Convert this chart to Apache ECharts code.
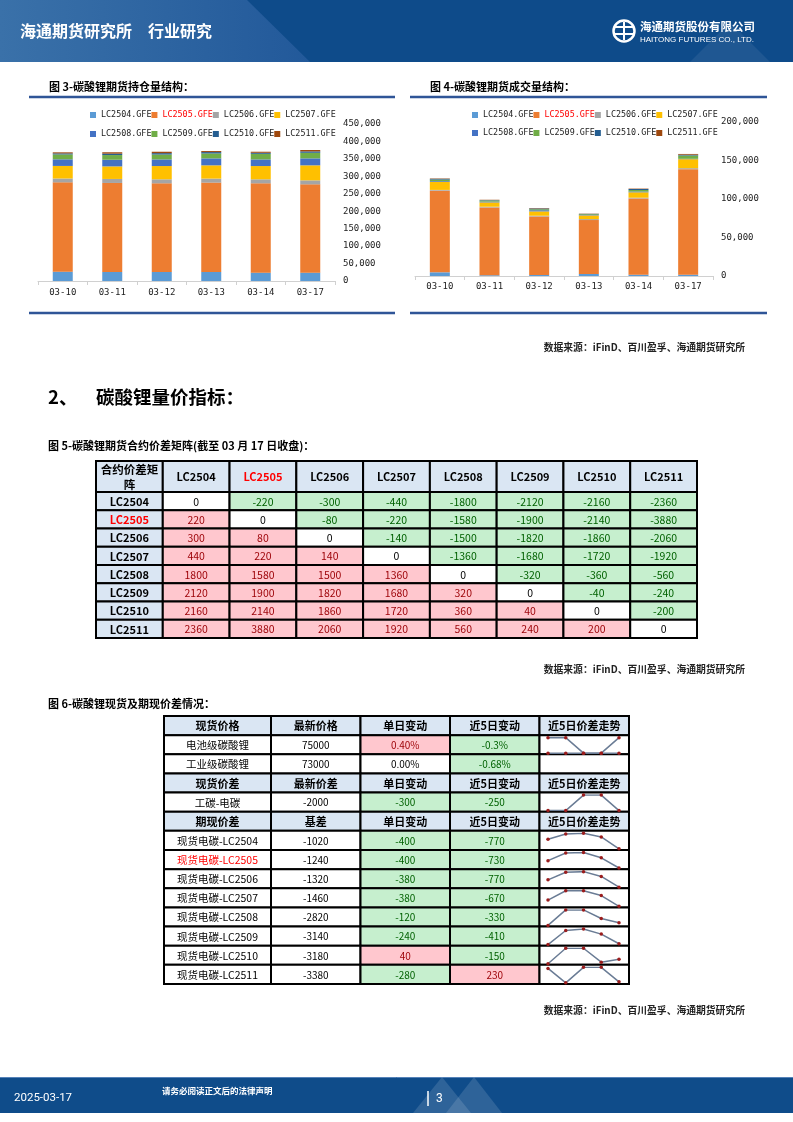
<!DOCTYPE html>
<html>
<head>
<meta charset="utf-8">
<title>碳酸锂量价指标</title>
<script src="https://cdn.jsdelivr.net/npm/echarts@6.0.0/dist/echarts.min.js"></script>
<style>
html, body { margin: 0; padding: 0; background: #fff; }
#page { width: 793px; height: 1122px; }
</style>
</head>
<body>
<div id="page"></div>
<script>
// 日期与合约
const dates = ['03-10', '03-11', '03-12', '03-13', '03-14', '03-17']
const contracts = ['LC2504', 'LC2505', 'LC2506', 'LC2507', 'LC2508', 'LC2509', 'LC2510', 'LC2511']

// 图3 持仓量
const holdLC2504 = [26800, 26000, 26000, 26000, 24000, 24000]
const holdLC2505 = [256000, 255000, 254000, 256000, 256000, 253000]
const holdLC2506 = [11000, 11500, 11500, 11500, 11500, 11500]
const holdLC2507 = [36000, 36000, 38000, 38000, 38000, 43000]
const holdLC2508 = [19000, 19000, 19000, 20000, 19000, 20000]
const holdLC2509 = [14000, 13500, 14000, 14000, 16000, 16000]
const holdLC2510 = [3000, 4000, 4000, 4000, 3000, 4000]
const holdLC2511 = [3000, 4000, 4000, 3000, 3000, 4000]

// 图4 成交量
const volLC2504 = [4800, 1000, 1300, 2600, 1700, 1700]
const volLC2505 = [106000, 88000, 76000, 70000, 99000, 137000]
const volLC2506 = [1000, 1000, 1000, 1300, 1000, 1300]
const volLC2507 = [10400, 5600, 5600, 4800, 7000, 11700]
const volLC2508 = [1000, 1000, 1500, 500, 1000, 500]
const volLC2509 = [2000, 1500, 1300, 1000, 2000, 4300]
const volLC2510 = [1000, 500, 1000, 500, 1300, 1000]
const volLC2511 = [500, 400, 500, 300, 500, 1000]

// 图5 价差矩阵（行 - 列）
const spreadLC2504 = [0, -220, -300, -440, -1800, -2120, -2160, -2360]
const spreadLC2505 = [220, 0, -80, -220, -1580, -1900, -2140, -3880]
const spreadLC2506 = [300, 80, 0, -140, -1500, -1820, -1860, -2060]
const spreadLC2507 = [440, 220, 140, 0, -1360, -1680, -1720, -1920]
const spreadLC2508 = [1800, 1580, 1500, 1360, 0, -320, -360, -560]
const spreadLC2509 = [2120, 1900, 1820, 1680, 320, 0, -40, -240]
const spreadLC2510 = [2160, 2140, 1860, 1720, 360, 40, 0, -200]
const spreadLC2511 = [2360, 3880, 2060, 1920, 560, 240, 200, 0]

// 图6 现货及期现价差
const headSpot = ['现货价格', '最新价格', '单日变动', '近5日变动', '近5日价差走势']
const headGap = ['现货价差', '最新价差', '单日变动', '近5日变动', '近5日价差走势']
const headBasis = ['期现价差', '基差', '单日变动', '近5日变动', '近5日价差走势']
const spotNames = ['电池级碳酸锂', '工业级碳酸锂']
const spotLatest = [75000, 73000]
const spotDaily = ['0.40%', '0.00%']
const spotFive = ['-0.3%', '-0.68%']
const gapNames = ['工碳-电碳']
const gapLatest = [-2000]
const gapDaily = [-300]
const gapFive = [-250]
const basisLatest = [-1020, -1240, -1320, -1460, -2820, -3140, -3180, -3380]
const basisDaily = [-400, -400, -380, -380, -120, -240, 40, -280]
const basisFive = [-770, -730, -770, -670, -330, -410, -150, 230]

// 近5日走势
const trendBattery = [75000, 75000, 74700, 74700, 75000]
const trendIndustrial = [73000, 73000, 73000, 73000, 73000]
const trendGap = [-2000, -2000, -1700, -1700, -2000]
const trend2504 = [-700, -520, -500, -620, -1020]
const trend2505 = [-950, -650, -630, -840, -1240]
const trend2506 = [-1060, -790, -770, -940, -1320]
const trend2507 = [-1240, -910, -910, -1080, -1460]
const trend2508 = [-2900, -2450, -2450, -2700, -2820]
const trend2509 = [-3160, -2810, -2775, -2900, -3140]
const trend2510 = [-3240, -3035, -3035, -3220, -3180]
const trend2511 = [-3120, -3400, -3100, -3100, -3380]

const CJK = '"Noto Sans CJK SC"'
const MONO = '"DejaVu Sans Mono"'
const barColors = ['#5B9BD5', '#ED7D31', '#A5A5A5', '#FFC000', '#4472C4', '#70AD47', '#255E91', '#9E480E']
const headFill = '#DAE6F3'

const holdData = [holdLC2504, holdLC2505, holdLC2506, holdLC2507, holdLC2508, holdLC2509, holdLC2510, holdLC2511]
const volData = [volLC2504, volLC2505, volLC2506, volLC2507, volLC2508, volLC2509, volLC2510, volLC2511]
const spreadRows = [spreadLC2504, spreadLC2505, spreadLC2506, spreadLC2507, spreadLC2508, spreadLC2509, spreadLC2510, spreadLC2511]
const basisTrends = [trend2504, trend2505, trend2506, trend2507, trend2508, trend2509, trend2510, trend2511]
const legendNames = contracts.map((c) => c + '.GFE')

const chart = echarts.init(document.getElementById('page'), null, { renderer: 'canvas' })

// 正负着色
const signStyle = (v) => {
  if (v > 0) return { fill: '#FFC7CE', color: '#9C0006' }
  if (v < 0) return { fill: '#C6EFCE', color: '#006100' }
  return { fill: '#FFFFFF', color: '#000000' }
}

const grids = []
const xAxes = []
const yAxes = []
const series = []

// 堆积柱状图
const addBarChart = (box, data, stack, max, labelMargin) => {
  const gi = grids.length
  grids.push({ left: box[0], top: box[1], width: box[2], height: box[3], outerBoundsMode: 'none' })
  xAxes.push({
    gridIndex: gi,
    type: 'category',
    data: dates,
    axisLine: { lineStyle: { color: '#d0d0d0', width: 1 } },
    axisTick: { show: true, length: 4, lineStyle: { color: '#d0d0d0' } },
    axisLabel: { color: '#222', fontFamily: MONO, fontSize: 9, margin: labelMargin },
  })
  yAxes.push({
    gridIndex: gi,
    type: 'value',
    position: 'right',
    min: 0,
    max: max,
    interval: 50000,
    axisLine: { show: false },
    axisTick: { show: false },
    splitLine: { show: false },
    axisLabel: {
      color: '#222',
      fontFamily: MONO,
      fontSize: 9,
      margin: 8,
      formatter: (v) => v.toLocaleString('en-US'),
    },
  })
  data.forEach((arr, i) => {
    series.push({
      name: legendNames[i],
      type: 'bar',
      xAxisIndex: gi,
      yAxisIndex: gi,
      stack: stack,
      barWidth: 20,
      itemStyle: { color: barColors[i] },
      data: arr,
    })
  })
}

addBarChart([38, 124, 297, 157], holdData, 'hold', 450000, 7)
addBarChart([415, 122, 298, 154], volData, 'vol', 200000, 6)

// 表格单元格
const addTable = (box, nCols, nRows, cells) => {
  const gi = grids.length
  grids.push({ left: box[0], top: box[1], width: box[2], height: box[3], outerBoundsMode: 'none' })
  xAxes.push({ gridIndex: gi, type: 'category', show: false, data: Array.from({ length: nCols }, (_, i) => i) })
  yAxes.push({ gridIndex: gi, type: 'category', show: false, inverse: true, data: Array.from({ length: nRows }, (_, i) => i) })
  series.push({
    type: 'custom',
    xAxisIndex: gi,
    yAxisIndex: gi,
    silent: true,
    z: 2,
    data: cells.map((c) => [c.col, c.row]),
    renderItem: (params, api) => {
      const cell = cells[params.dataIndex]
      const p = api.coord([api.value(0), api.value(1)])
      const s = api.size([1, 1])
      return {
        type: 'group',
        children: [
          {
            type: 'rect',
            shape: { x: p[0] - s[0] / 2, y: p[1] - s[1] / 2, width: s[0], height: s[1] },
            style: { fill: cell.fill, stroke: '#000', lineWidth: 2 },
          },
          {
            type: 'text',
            x: p[0],
            y: p[1] + 0.5,
            style: {
              text: cell.text,
              fill: cell.color,
              font: cell.font,
              lineHeight: 15,
              align: 'center',
              verticalAlign: 'middle',
            },
          },
        ],
      }
    },
  })
}

// 图5 矩阵
const matHead = [{ col: 0, row: 0, text: '合约价差矩\n阵', fill: headFill, color: '#000', font: 'bold 11.5px ' + CJK }]
contracts.forEach((c, i) => {
  matHead.push({ col: i + 1, row: 0, text: c, fill: headFill, color: c === 'LC2505' ? '#FF0000' : '#000', font: 'bold 11px ' + CJK })
})
addTable([96, 461, 601, 31], 9, 1, matHead)

const matBody = []
spreadRows.forEach((row, r) => {
  matBody.push({ col: 0, row: r, text: contracts[r], fill: headFill, color: contracts[r] === 'LC2505' ? '#FF0000' : '#000', font: 'bold 11px ' + CJK })
  row.forEach((v, c) => {
    const st = signStyle(v)
    matBody.push({ col: c + 1, row: r, text: String(v), fill: st.fill, color: st.color, font: '10.5px ' + CJK })
  })
})
addTable([96, 492, 601, 146], 9, 8, matBody)

// 图6 表格
const t2Rows = []
t2Rows.push({ head: true, texts: headSpot })
spotNames.forEach((n, i) => {
  t2Rows.push({ texts: [n, String(spotLatest[i]), spotDaily[i], spotFive[i], ''], signs: [parseFloat(spotDaily[i]), parseFloat(spotFive[i])] })
})
t2Rows.push({ head: true, texts: headGap })
gapNames.forEach((n, i) => {
  t2Rows.push({ texts: [n, String(gapLatest[i]), String(gapDaily[i]), String(gapFive[i]), ''], signs: [gapDaily[i], gapFive[i]] })
})
t2Rows.push({ head: true, texts: headBasis })
contracts.forEach((c, i) => {
  t2Rows.push({ texts: ['现货电碳-' + c, String(basisLatest[i]), String(basisDaily[i]), String(basisFive[i]), ''], signs: [basisDaily[i], basisFive[i]], red: c === 'LC2505' })
})

const t2Left = []
const t2Right = []
t2Rows.forEach((row, r) => {
  if (row.head) {
    t2Left.push({ col: 0, row: r, text: row.texts[0], fill: headFill, color: '#000', font: 'bold 11px ' + CJK })
    for (let c = 1; c < 5; c++) {
      t2Right.push({ col: c - 1, row: r, text: row.texts[c], fill: headFill, color: '#000', font: 'bold 11px ' + CJK })
    }
  } else {
    t2Left.push({ col: 0, row: r, text: row.texts[0], fill: '#fff', color: row.red ? '#FF0000' : '#000', font: '10.5px ' + CJK })
    t2Right.push({ col: 0, row: r, text: row.texts[1], fill: '#fff', color: '#000', font: '10px ' + CJK })
    row.signs.forEach((v, k) => {
      const st = signStyle(v)
      t2Right.push({ col: k + 1, row: r, text: row.texts[k + 2], fill: st.fill, color: st.color, font: '10px ' + CJK })
    })
    t2Right.push({ col: 3, row: r, text: '', fill: '#fff', color: '#000', font: '10px ' + CJK })
  }
})
const t2Top = 716
const t2Height = 268
addTable([164, t2Top, 107, t2Height], 1, t2Rows.length, t2Left)
addTable([271, t2Top, 358, t2Height], 4, t2Rows.length, t2Right)

// 迷你走势图
const rowH = t2Height / t2Rows.length
const addSpark = (rowIdx, data, flat) => {
  const gi = grids.length
  grids.push({ left: 548, top: t2Top + rowIdx * rowH + 2.5, width: 71, height: 15.5, outerBoundsMode: 'none' })
  xAxes.push({ gridIndex: gi, type: 'category', show: false, boundaryGap: false, data: data.map((_, i) => i) })
  yAxes.push({
    gridIndex: gi,
    type: 'value',
    show: false,
    min: 'dataMin',
    max: flat ? (v) => v.max + 1 : 'dataMax',
  })
  series.push({
    type: 'line',
    xAxisIndex: gi,
    yAxisIndex: gi,
    z: 5,
    silent: true,
    data: data,
    symbol: 'circle',
    symbolSize: 3.5,
    lineStyle: { color: '#6a7c95', width: 1.5 },
    itemStyle: { color: '#9b1c1c' },
  })
}
addSpark(1, trendBattery, false)
addSpark(1, trendIndustrial, true)
addSpark(4, trendGap, false)
basisTrends.forEach((arr, i) => addSpark(6 + i, arr, false))

// 图例
const legendItem = (n) => (n === 'LC2505.GFE' ? { name: n, textStyle: { color: '#FF0000' } } : { name: n })
const legendBase = {
  orient: 'horizontal',
  icon: 'rect',
  itemWidth: 6,
  itemHeight: 6,
  itemGap: 0,
  padding: 0,
  selectedMode: false,
  textStyle: { fontFamily: MONO, fontSize: 8.4, color: '#222' },
}
const legends = [
  Object.assign({}, legendBase, { left: 90, top: 111, data: legendNames.slice(0, 4).map(legendItem) }),
  Object.assign({}, legendBase, { left: 90, top: 130, data: legendNames.slice(4).map(legendItem) }),
  Object.assign({}, legendBase, { left: 472, top: 111, data: legendNames.slice(0, 4).map(legendItem) }),
  Object.assign({}, legendBase, { left: 472, top: 129, data: legendNames.slice(4).map(legendItem) }),
]

// 页面装饰与文字
const txt = (x, y, text, font, fill, align) => ({
  type: 'text',
  x: x,
  y: y,
  silent: true,
  style: { text: text, font: font, fill: fill || '#000', align: align || 'left', verticalAlign: 'middle' },
})
const hline = (x1, x2, y, color, w) => ({
  type: 'line',
  silent: true,
  shape: { x1: x1, y1: y, x2: x2, y2: y },
  style: { stroke: color, lineWidth: w },
})
const source = '数据来源：iFinD、百川盈孚、海通期货研究所'

const graphic = [
  // 页眉
  { type: 'rect', silent: true, shape: { x: 0, y: 0, width: 793, height: 62 }, style: { fill: '#0e4b8a' } },
  {
    type: 'polygon',
    silent: true,
    shape: { points: [[0, 0], [247, 0], [310, 62], [0, 62]] },
    style: { fill: { type: 'linear', x: 0, y: 0, x2: 1, y2: 0, colorStops: [{ offset: 0, color: '#3a71a9' }, { offset: 1, color: '#22599a' }] } },
  },
  { type: 'polygon', silent: true, shape: { points: [[690, 62], [730, 22], [770, 62]] }, style: { fill: 'rgba(255,255,255,0.07)' } },
  txt(20, 31, '海通期货研究所', 'bold 16px ' + CJK, '#fff'),
  txt(148, 31, '行业研究', 'bold 16px ' + CJK, '#fff'),
  { type: 'circle', silent: true, shape: { cx: 624, cy: 31, r: 10.5 }, style: { fill: 'none', stroke: '#fff', lineWidth: 2.5 } },
  hline(615, 633, 27, '#fff', 2),
  hline(614, 634, 34, '#fff', 2),
  { type: 'line', silent: true, shape: { x1: 624, y1: 22, x2: 624, y2: 40 }, style: { stroke: '#fff', lineWidth: 2 } },
  txt(640, 27, '海通期货股份有限公司', 'bold 11.5px ' + CJK, '#fff'),
  txt(640, 39.5, 'HAITONG FUTURES CO., LTD.', '8px "Liberation Sans"', '#fff'),

  // 图3 / 图4 标题
  txt(49, 87, '图 3-碳酸锂期货持仓量结构：', 'bold 11px ' + CJK),
  hline(29, 395, 97, '#2f5597', 2.5),
  hline(29, 395, 313, '#2f5597', 2.5),
  txt(430, 87, '图 4-碳酸锂期货成交量结构：', 'bold 11px ' + CJK),
  hline(410, 767, 97, '#2f5597', 2.5),
  hline(410, 767, 313, '#2f5597', 2.5),
  txt(745, 347, source, 'bold 9.8px ' + CJK, '#222', 'right'),

  // 第二节
  txt(48, 397, '2、', 'bold 18.5px ' + CJK),
  txt(96, 397, '碳酸锂量价指标：', 'bold 18.5px ' + CJK),
  txt(48, 446, '图 5-碳酸锂期货合约价差矩阵(截至 03 月 17 日收盘)：', 'bold 11px ' + CJK),
  txt(745, 669, source, 'bold 9.8px ' + CJK, '#222', 'right'),
  txt(48, 704, '图 6-碳酸锂现货及期现价差情况：', 'bold 11px ' + CJK),
  txt(745, 1010, source, 'bold 9.8px ' + CJK, '#222', 'right'),

  // 页脚
  { type: 'rect', silent: true, shape: { x: 0, y: 1077, width: 793, height: 36 }, style: { fill: '#0f4c8a' } },
  hline(0, 793, 1077.5, '#5582b8', 1),
  { type: 'polygon', silent: true, shape: { points: [[413, 1113], [442, 1077], [471, 1113]] }, style: { fill: 'rgba(255,255,255,0.13)' } },
  { type: 'polygon', silent: true, shape: { points: [[446, 1113], [474, 1077], [502, 1113]] }, style: { fill: 'rgba(255,255,255,0.13)' } },
  txt(14, 1098, '2025-03-17', '11.5px "Liberation Sans Narrow", Roboto', '#fff'),
  txt(162, 1091, '请务必阅读正文后的法律声明', 'bold 8.5px ' + CJK, '#fff'),
  { type: 'line', silent: true, shape: { x1: 428, y1: 1091, x2: 428, y2: 1106 }, style: { stroke: '#fff', lineWidth: 1.5 } },
  txt(436, 1099, '3', '12px Roboto', '#fff'),
]

chart.setOption({
  animation: false,
  backgroundColor: '#fff',
  tooltip: { show: false },
  legend: legends,
  grid: grids,
  xAxis: xAxes,
  yAxis: yAxes,
  series: series,
  graphic: graphic,
})
</script>
</body>
</html>
